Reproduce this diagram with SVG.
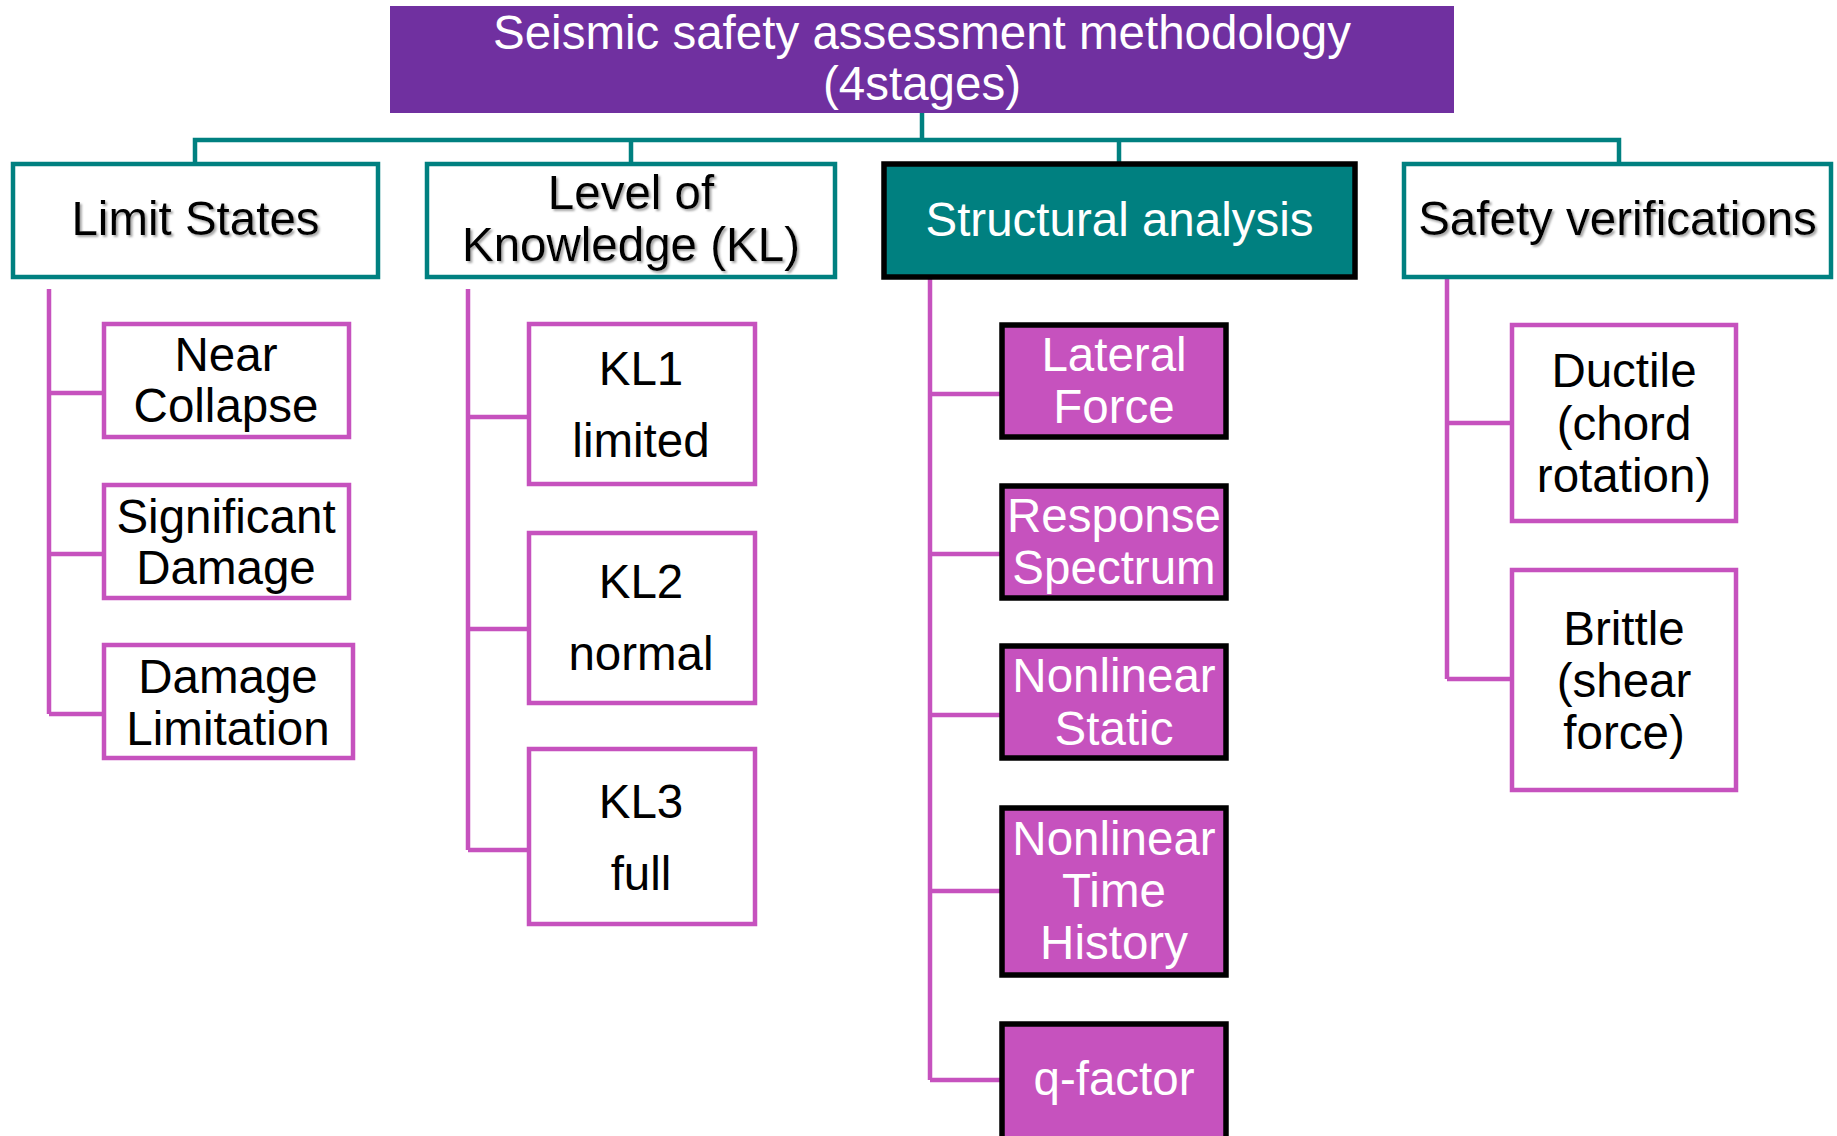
<svg xmlns="http://www.w3.org/2000/svg" width="1837" height="1136" viewBox="0 0 1837 1136">
<defs>
<filter id="sh" x="-5%" y="-20%" width="110%" height="140%"><feDropShadow dx="2" dy="2" stdDeviation="1.2" flood-color="#7f7f7f" flood-opacity="0.7"/></filter>
<style>
text{font-family:"Liberation Sans",Arial,sans-serif;font-size:47.5px;text-anchor:middle}
.w{fill:#fff}
.k{fill:#000}
.l1{fill:#fff;stroke:#008080;stroke-width:4.5}
.l2{fill:#fff;stroke:#C652BE;stroke-width:4.5}
.l2s{fill:#C652BE;stroke:#000;stroke-width:5.5}
.tc{fill:none;stroke:#008080;stroke-width:4.5}
.pc{fill:none;stroke:#C652BE;stroke-width:4.5}
</style>
</defs>
<rect width="1837" height="1136" fill="#fff"/>
<g id="connectors">
<path class="tc" d="M922 113V140M195 164V140H1619V164M631 140V164M1119 140V164"/>
<path class="pc" d="M49 289V714M49 393H103M49 554H103M49 714H103"/>
<path class="pc" d="M468 289V850M468 417H528M468 629H528M468 850H528"/>
<path class="pc" d="M930 278V1080M930 394H1000M930 554H1000M930 715H1000M930 891H1000M930 1080H1000"/>
<path class="pc" d="M1447 278V679M1447 423H1510M1447 679H1510"/>
</g>
<g id="title">
<rect x="390" y="6" width="1064" height="107" fill="#7030A0"/>
<text class="w" x="922" y="49">Seismic safety assessment methodology</text>
<text class="w" x="922" y="100">(4stages)</text>
</g>
<g id="limit-states">
<rect class="l1" x="13" y="164" width="365" height="113"/>
<text class="k" x="195.5" y="235" filter="url(#sh)">Limit States</text>
</g>
<g id="level-of-knowledge">
<rect class="l1" x="427" y="164" width="408" height="113"/>
<text class="k" x="631" y="209" filter="url(#sh)">Level of</text>
<text class="k" x="631" y="261" filter="url(#sh)">Knowledge (KL)</text>
</g>
<g id="structural-analysis">
<rect x="884" y="164" width="471" height="113" fill="#008080" stroke="#000" stroke-width="5.5"/>
<text class="w" x="1119.5" y="236">Structural analysis</text>
</g>
<g id="safety-verifications">
<rect class="l1" x="1404" y="164" width="427" height="113"/>
<text class="k" x="1617.5" y="235" filter="url(#sh)">Safety verifications</text>
</g>
<g id="near-collapse">
<rect class="l2" x="104" y="324" width="245" height="113"/>
<text class="k" x="226" y="371">Near</text>
<text class="k" x="226" y="422">Collapse</text>
</g>
<g id="significant-damage">
<rect class="l2" x="104" y="485" width="245" height="113"/>
<text class="k" x="226" y="533">Significant</text>
<text class="k" x="226" y="584">Damage</text>
</g>
<g id="damage-limitation">
<rect class="l2" x="104" y="645" width="249" height="113"/>
<text class="k" x="228" y="693">Damage</text>
<text class="k" x="228" y="745">Limitation</text>
</g>
<g id="kl1">
<rect class="l2" x="529" y="324" width="226" height="160"/>
<text class="k" x="641" y="385">KL1</text>
<text class="k" x="641" y="457">limited</text>
</g>
<g id="kl2">
<rect class="l2" x="529" y="533" width="226" height="170"/>
<text class="k" x="641" y="598">KL2</text>
<text class="k" x="641" y="670">normal</text>
</g>
<g id="kl3">
<rect class="l2" x="529" y="749" width="226" height="175"/>
<text class="k" x="641" y="818">KL3</text>
<text class="k" x="641" y="890">full</text>
</g>
<g id="lateral-force">
<rect class="l2s" x="1002" y="325" width="224" height="112"/>
<text class="w" x="1114" y="371">Lateral</text>
<text class="w" x="1114" y="423">Force</text>
</g>
<g id="response-spectrum">
<rect class="l2s" x="1002" y="486" width="224" height="112"/>
<text class="w" x="1114" y="532">Response</text>
<text class="w" x="1114" y="584">Spectrum</text>
</g>
<g id="nonlinear-static">
<rect class="l2s" x="1002" y="646" width="224" height="112"/>
<text class="w" x="1114" y="692">Nonlinear</text>
<text class="w" x="1114" y="745">Static</text>
</g>
<g id="nonlinear-time-history">
<rect class="l2s" x="1002" y="808" width="224" height="167"/>
<text class="w" x="1114" y="855">Nonlinear</text>
<text class="w" x="1114" y="907">Time</text>
<text class="w" x="1114" y="959">History</text>
</g>
<g id="q-factor">
<rect class="l2s" x="1002" y="1024" width="224" height="120"/>
<text class="w" x="1114" y="1095">q-factor</text>
</g>
<g id="ductile">
<rect class="l2" x="1512" y="325" width="224" height="196"/>
<text class="k" x="1624" y="387">Ductile</text>
<text class="k" x="1624" y="440">(chord</text>
<text class="k" x="1624" y="492">rotation)</text>
</g>
<g id="brittle">
<rect class="l2" x="1512" y="570" width="224" height="220"/>
<text class="k" x="1624" y="645">Brittle</text>
<text class="k" x="1624" y="697">(shear</text>
<text class="k" x="1624" y="749">force)</text>
</g>
</svg>
